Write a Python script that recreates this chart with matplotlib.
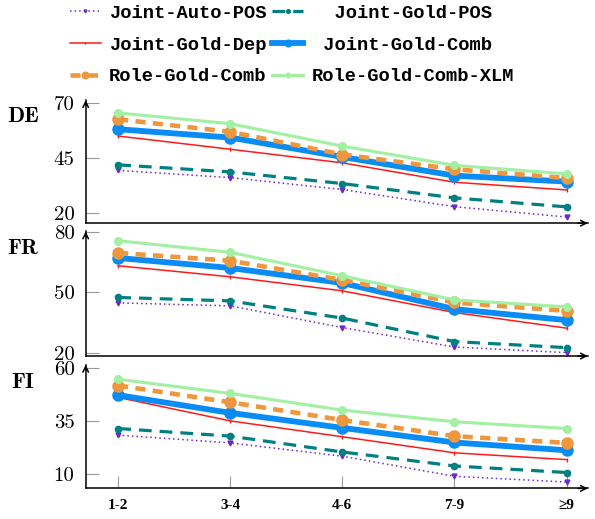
import numpy as np
import matplotlib
matplotlib.use("Agg")
import matplotlib.pyplot as plt

# word-length buckets on the x axis
buckets = ["1-2", "3-4", "4-6", "7-9", "≥9"]

series_names = ["Joint-Auto-POS", "Joint-Gold-POS", "Joint-Gold-Dep",
                "Joint-Gold-Comb", "Role-Gold-Comb", "Role-Gold-Comb-XLM"]

# DE scores
de_auto_pos = [39.5, 36.2, 30.8, 23.0, 18.3]
de_gold_pos = [42.0, 38.8, 33.5, 27.0, 22.9]
de_gold_dep = [55.1, 49.1, 42.9, 34.1, 30.6]
de_gold_comb = [58.2, 54.4, 45.6, 37.1, 34.4]
de_role_comb = [62.7, 57.0, 46.7, 40.0, 36.0]
de_role_xlm = [65.6, 60.7, 50.5, 41.8, 37.9]

# FR scores
fr_auto_pos = [44.8, 43.3, 32.5, 22.8, 20.0]
fr_gold_pos = [47.5, 45.8, 37.2, 25.5, 22.5]
fr_gold_dep = [63.3, 57.8, 50.8, 40.0, 32.2]
fr_gold_comb = [67.2, 62.2, 54.7, 41.7, 36.2]
fr_role_comb = [69.7, 65.8, 56.2, 45.0, 40.8]
fr_role_xlm = [75.8, 70.0, 58.3, 46.3, 42.8]

# FI scores
fi_auto_pos = [28.4, 24.7, 18.4, 8.9, 6.2]
fi_gold_pos = [31.5, 27.9, 20.4, 13.8, 10.7]
fi_gold_dep = [46.2, 35.1, 27.6, 20.0, 16.8]
fi_gold_comb = [47.3, 38.9, 31.8, 24.9, 21.2]
fi_role_comb = [51.8, 43.9, 35.5, 27.9, 24.7]
fi_role_xlm = [54.8, 48.1, 40.2, 34.7, 31.5]

panels = ["DE", "FR", "FI"]
panel_data = [
    [de_auto_pos, de_gold_pos, de_gold_dep, de_gold_comb, de_role_comb, de_role_xlm],
    [fr_auto_pos, fr_gold_pos, fr_gold_dep, fr_gold_comb, fr_role_comb, fr_role_xlm],
    [fi_auto_pos, fi_gold_pos, fi_gold_dep, fi_gold_comb, fi_role_comb, fi_role_xlm],
]
yticks = [[20, 45, 70], [20, 50, 80], [10, 35, 60]]
ylims = [(15.5, 71.4), (18.3, 80.4), (3.2, 61.6)]
# [left, bottom, width, height] in figure fraction
boxes = [[0.144, 0.570, 0.844, 0.237],
         [0.144, 0.314, 0.844, 0.240],
         [0.144, 0.059, 0.844, 0.238]]

styles = [
    dict(color="#6a2ad0", ls=(0, (1, 2)), lw=1.1, marker="v", ms=3.5),
    dict(color="#008080", ls=(0, (4, 2.5)), lw=2.3, marker="o", ms=4.5),
    dict(color="#ff1a1a", ls="-", lw=1.1, marker="|", ms=3.5),
    dict(color="#0a8cf5", ls="-", lw=4.2, marker="o", ms=8),
    dict(color="#f0963c", ls=(0, (2.2, 1.6)), lw=3.3, marker="o", ms=8),
    dict(color="#a2f0a2", ls="-", lw=2.2, marker="o", ms=5.5),
]

fig = plt.figure(figsize=(5.95, 5.19), dpi=100)
x = np.arange(len(buckets))

handles = []
for p, name in enumerate(panels):
    ax = fig.add_axes(boxes[p])
    for s, vals in enumerate(panel_data[p]):
        st = styles[s]
        h, = ax.plot(x, vals, color=st["color"], linestyle=st["ls"], linewidth=st["lw"],
                     marker=st["marker"], markersize=st["ms"], markeredgewidth=1.0)
        if p == 0:
            handles.append(h)
    ax.set_xlim(-0.29, 4.19)
    ax.set_ylim(*ylims[p])
    ax.set_yticks(yticks[p])
    ax.set_yticklabels([str(t) for t in yticks[p]], family="cmr10", fontsize=15)
    ax.tick_params(axis="y", direction="in", length=9, width=0.8, color="#999999", pad=8)
    if p == 2:
        ax.set_xticks(x)
        ax.set_xticklabels(buckets, family="Liberation Serif", fontweight="bold", fontsize=11)
        ax.tick_params(axis="x", direction="in", length=9, width=0.8, color="#999999", pad=8)
    else:
        ax.set_xticks([])
    for side in ["top", "right"]:
        ax.spines[side].set_visible(False)
    for side in ["left", "bottom"]:
        ax.spines[side].set_linewidth(1.1)
    ax.annotate("", xy=(0, 1.0), xytext=(0, 0.96), xycoords="axes fraction",
                arrowprops=dict(arrowstyle="->", lw=1.1, color="black", shrinkA=0, shrinkB=0))
    ax.annotate("", xy=(1.0, 0), xytext=(0.98, 0), xycoords="axes fraction",
                arrowprops=dict(arrowstyle="->", lw=1.1, color="black", shrinkA=0, shrinkB=0))
    label_y = [116, 249, 382][p]
    fig.text(23 / 595, 1 - label_y / 519, name, family="cmb10", fontsize=16,
             ha="center", va="center")

# legend is filled column by column
labels = ["Joint-Auto-POS", "Joint-Gold-Dep", "Role-Gold-Comb",
          "  Joint-Gold-POS", " Joint-Gold-Comb", "Role-Gold-Comb-XLM"]
order = [0, 2, 4, 1, 3, 5]
leg = fig.legend([handles[i] for i in order], labels, loc="upper left",
                 bbox_to_anchor=(0.095, 1.016), ncol=2, frameon=False,
                 prop=dict(family="Liberation Mono", weight="bold", size=13.5),
                 handlelength=1.65, handletextpad=0.45, columnspacing=0.3,
                 labelspacing=0.78, borderpad=0.2, markerscale=0.6)

fig.savefig("out.png", dpi=100)
